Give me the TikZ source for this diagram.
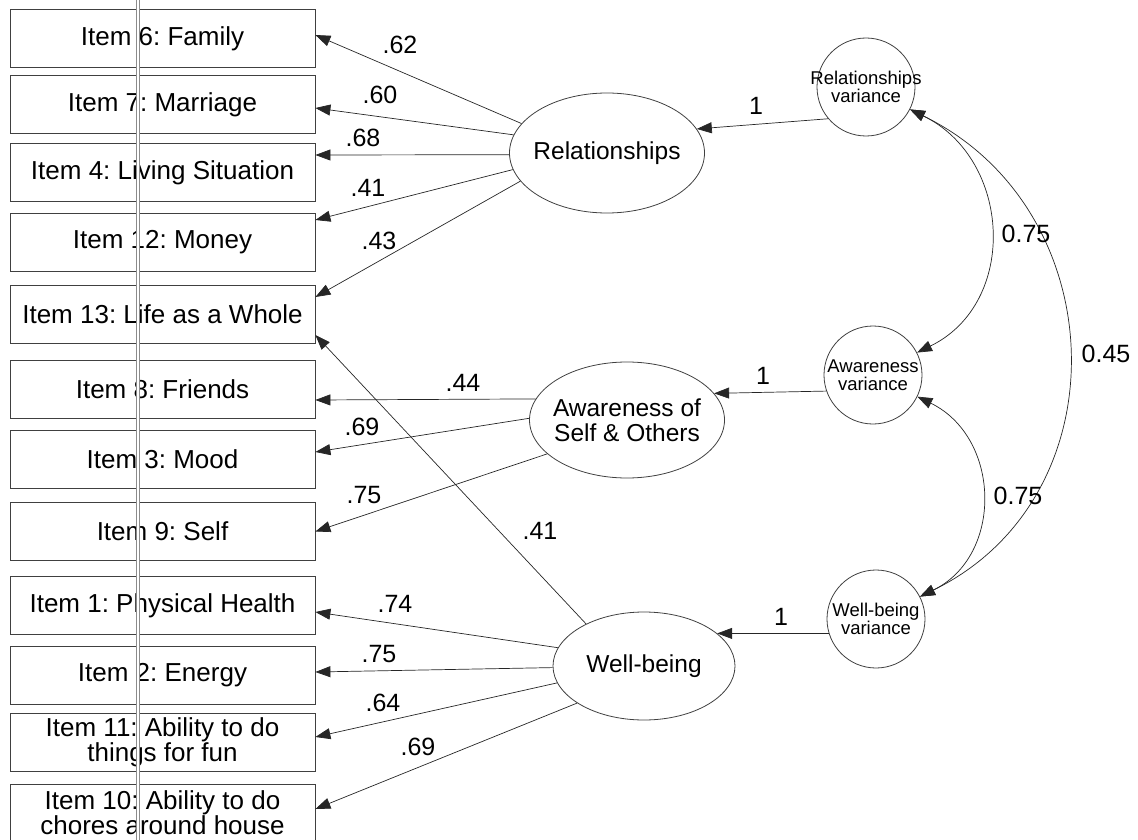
\documentclass[tikz,border=0pt]{standalone}
\usepackage{fontspec}
\setmainfont{Liberation Sans}
\usetikzlibrary{shapes.geometric,arrows.meta}
\frenchspacing

\begin{document}
\begin{tikzpicture}[x=1pt,y=1pt]
            \tikzstyle{every node}+=[inner sep=0pt]
            \tikzstyle{item}=[draw=black!75, line width=0.8pt, rectangle, minimum width=305pt, minimum height=58pt, align=center, font=\fontsize{26}{24}\selectfont]
            \tikzstyle{factor}=[draw=black!75, line width=0.8pt, ellipse, inner xsep=-30pt, inner ysep=-8pt, align=center, font=\fontsize{24.5}{25}\selectfont]
            \tikzstyle{resid}=[draw=black!75, line width=0.8pt, circle, minimum size=98pt, inner sep=-12pt, align=center, font=\fontsize{18.5}{18}\selectfont]
            \tikzstyle{coef}=[font=\fontsize{25}{25}\selectfont]
            \tikzstyle{load}=[draw=black!85, line width=0.7pt, -{Triangle[length=15pt,width=11pt]}]
            \tikzstyle{cov}=[draw=black!85, line width=0.7pt, {Triangle[length=15pt,width=11pt]}-{Triangle[length=15pt,width=11pt]}]
            \useasboundingbox (0,0) rectangle (1138,-840);
            \node [item] (i6) at (162.5,-38.5) {Item 6: Family};
            \node [item] (i7) at (162.5,-104.5) {Item 7: Marriage};
            \node [item] (i4) at (162.5,-172.5) {Item 4: Living Situation};
            \node [item] (i12) at (162.5,-242.5) {Item 12: Money};
            \node [item] (i13) at (162.5,-314) {Item 13: Life as a Whole};
            \node [item] (i8) at (162.5,-389) {Item 8: Friends};
            \node [item] (i3) at (162.5,-459.5) {Item 3: Mood};
            \node [item] (i9) at (162.5,-531.5) {Item 9: Self};
            \node [item] (i1) at (162.5,-605.5) {Item 1: Physical Health};
            \node [item] (i2) at (162.5,-675) {Item 2: Energy};
            \node [item] (i11) at (162.5,-742) {Item 11: Ability to do\\things for fun};
            \node [item] (i10) at (162.5,-813) {Item 10: Ability to do\\chores around house};
            \node [factor, minimum width=195pt, minimum height=120pt] (rel) at (607,-153) {Relationships};
            \node [factor, minimum width=195pt, minimum height=116pt] (aw) at (627,-420) {Awareness of\\Self \& Others};
            \node [factor, minimum width=182pt, minimum height=108pt] (wb) at (644,-666) {Well-being};
            \node [resid] (rv) at (866,-87) {Relationships\\variance};
            \node [resid] (av) at (873,-375) {Awareness\\variance};
            \node [resid] (wv) at (876,-619) {Well-being\\variance};
            \draw [load] (rel.161) -- ([yshift=3.5pt]i6.east);
            \draw [load] (rel.169) -- ([yshift=-3.5pt]i7.east);
            \draw [load] (rel.181) -- ([yshift=17.5pt]i4.east);
            \draw [load] (rel.190) -- ([yshift=22.5pt]i12.east);
            \draw [load] (rel.198) -- ([yshift=17pt]i13.east);
            \draw [load] (aw.167) -- ([yshift=-11pt]i8.east);
            \draw [load] (aw.179) -- ([yshift=7.5pt]i3.east);
            \draw [load] (aw.203) -- (i9.east);
            \draw [load] (wb.144) -- ([yshift=-21pt]i13.east);
            \draw [load] (wb.168) -- ([yshift=-6.5pt]i1.east);
            \draw [load] (wb.181) -- ([yshift=3pt]i2.east);
            \draw [load] (wb.191) -- ([yshift=5pt]i11.east);
            \draw [load] (wb.209) -- ([yshift=4pt]i10.east);
            \draw [load] (rv.220) -- (rel.15);
            \draw [load] (av.199) -- (aw.17);
            \draw [load] (wv.197) -- (wb.24);
            \draw [cov] (rv.-27) to [out=-26, in=26, looseness=1.19] (av.27);
            \draw [cov] (av.-26) to [out=-26, in=26, looseness=1.19] (wv.27);
            \draw [cov] (rv.-27) to [out=-26, in=26, looseness=1.19] (wv.27);
            \node [coef] (c62) at (400,-45) {.62};
            \node [coef] (c60) at (380,-95) {.60};
            \node [coef] (c68) at (363,-138) {.68};
            \node [coef] (c41a) at (368,-188) {.41};
            \node [coef] (c43) at (379,-241) {.43};
            \node [coef] (c44) at (463,-383) {.44};
            \node [coef] (c69a) at (362,-427) {.69};
            \node [coef] (c75a) at (364,-495) {.75};
            \node [coef] (c41b) at (540,-531) {.41};
            \node [coef] (c74) at (395,-604) {.74};
            \node [coef] (c75b) at (379,-654) {.75};
            \node [coef] (c64) at (383,-703) {.64};
            \node [coef] (c69b) at (418,-747) {.69};
            \node [coef] (one1) at (756,-106) {1};
            \node [coef] (one2) at (763,-376) {1};
            \node [coef] (one3) at (781,-617) {1};
            \node [coef] (r1) at (1026,-234) {0.75};
            \node [coef] (r2) at (1018,-496) {0.75};
            \node [coef] (r3) at (1106,-354) {0.45};
            \coordinate (top) at (138,0);
            \coordinate (bottom) at (138,-840);
            \draw [black!45, double=white, double distance=1.8pt, line width=0.7pt] (top) -- (bottom);
\end{tikzpicture}
\end{document}
